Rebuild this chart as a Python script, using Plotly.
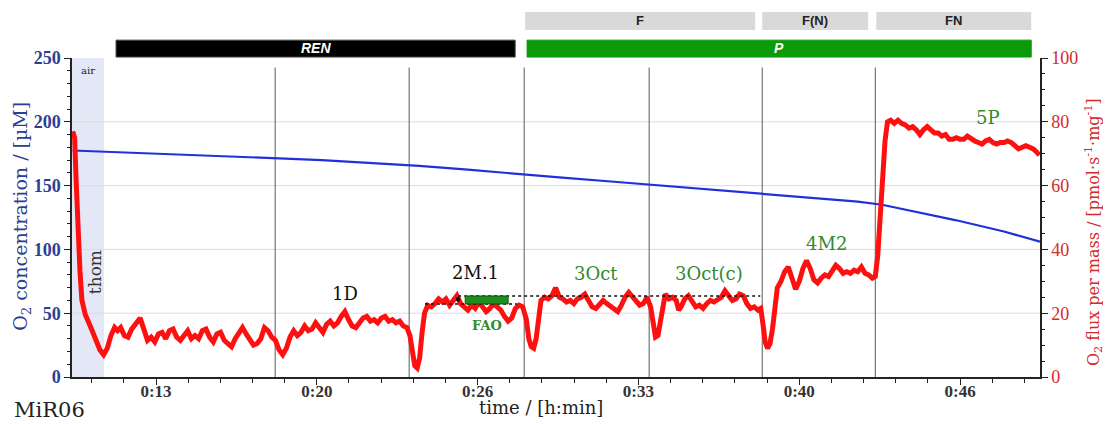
import plotly.graph_objects as go

# ---------------- data ----------------
# O2 concentration (left axis, µM)
o2_time = [9.78, 12, 14, 16, 18, 20, 22, 24, 26, 28, 30, 32, 34, 36, 38, 40, 42, 43, 44, 46, 48, 49.48]
o2_conc = [177.5, 176, 174.5, 173, 171.5, 170, 168, 165.5, 162.5, 159, 156, 153, 150, 147, 144, 141, 137.5, 135, 131, 123, 114, 106]

# O2 flux per mass (right axis)
flux_time = [
    9.78, 9.86, 9.92, 9.98, 10.08, 10.16, 10.3, 10.5, 10.7, 10.9, 11.05, 11.2, 11.35, 11.5, 11.62, 11.75,
    11.9, 12.05, 12.2, 12.4, 12.55, 12.7, 12.85, 13.0, 13.15, 13.3, 13.45, 13.6, 13.75, 13.9, 14.05, 14.2, 14.35,
    14.5, 14.65, 14.8, 14.95, 15.1, 15.25, 15.4, 15.55, 15.7, 15.85, 16.0, 16.15, 16.3, 16.45, 16.6, 16.75, 16.9,
    17.05, 17.2, 17.35, 17.5, 17.65, 17.8, 17.95, 18.1,
    18.25, 18.4, 18.55, 18.7, 18.85, 19.0, 19.15, 19.3, 19.45, 19.6, 19.75, 19.9, 20.05, 20.2, 20.35, 20.5, 20.65,
    20.8, 20.95, 21.1, 21.25, 21.4, 21.55, 21.7, 21.85, 22.0, 22.15, 22.3, 22.45, 22.6, 22.75, 22.9, 23.05, 23.2,
    23.35, 23.5,
    23.62, 23.72, 23.82, 23.92, 24.02, 24.12, 24.22, 24.35, 24.5, 24.65, 24.8, 24.95, 25.1, 25.25, 25.4, 25.55,
    25.7, 25.85, 26.0, 26.15, 26.3, 26.45, 26.6, 26.75, 26.9, 27.05, 27.2, 27.35, 27.5, 27.65, 27.8, 27.95, 28.1, 28.25,
    28.4, 28.5, 28.6, 28.7, 28.8, 28.9, 29.0, 29.15, 29.3, 29.45, 29.6, 29.75, 29.9, 30.05, 30.2, 30.35, 30.5,
    30.65, 30.8, 30.95, 31.1, 31.25, 31.4, 31.55, 31.7, 31.85, 32.0, 32.15, 32.3, 32.45, 32.6, 32.75, 32.9, 33.05,
    33.2, 33.35,
    33.5, 33.6, 33.7, 33.8, 33.9, 34.0, 34.1, 34.25, 34.4, 34.55, 34.65, 34.75, 34.9, 35.05, 35.2, 35.35, 35.5,
    35.65, 35.8, 35.95, 36.1, 36.25, 36.4, 36.55, 36.7, 36.85, 37.0, 37.15, 37.3, 37.45, 37.6, 37.75, 37.9, 38.02,
    38.12, 38.2, 38.3, 38.4, 38.5, 38.6, 38.7, 38.85, 39.0, 39.15, 39.3, 39.45, 39.6, 39.75, 39.9, 40.05, 40.2,
    40.35, 40.5, 40.65, 40.8, 40.95, 41.1, 41.25, 41.4, 41.55, 41.7, 41.85, 42.0, 42.15, 42.3, 42.45, 42.6, 42.72,
    42.82, 42.92, 43.02, 43.12, 43.22, 43.35, 43.5, 43.65, 43.8, 43.95, 44.1, 44.25, 44.4, 44.55, 44.7, 44.85,
    45.0, 45.15, 45.3, 45.45, 45.6, 45.75, 45.9, 46.05, 46.2, 46.35, 46.5, 46.65, 46.8, 46.95, 47.1, 47.25, 47.4,
    47.55, 47.7, 47.85, 48.0, 48.15, 48.3, 48.45, 48.6, 48.75, 48.9, 49.05, 49.2, 49.35, 49.45,
]
flux_value = [
    77, 75, 62, 48, 33, 24, 19.5, 16, 12, 8.5, 7, 9, 13, 15.5, 14.5, 15.5,
    13, 12.5, 15, 17, 18.5, 15, 11.5, 12.5, 11, 13.5, 14, 12, 14.5, 15, 12.5, 11.5, 13,
    14.5, 12, 13, 12, 14.5, 15, 12.5, 11, 13.5, 14, 11.5, 10.5, 9.5, 12, 14, 15.5, 13.5,
    11.5, 10, 10.5, 12, 15.5, 14.5, 12.5, 11.5,
    8.5, 7, 9, 12.5, 14.5, 13, 14, 16, 14.5, 15, 17, 15.5, 14, 16.5, 17.5, 16, 17,
    19, 20.5, 18, 16, 15.5, 17, 18.5, 19, 17.5, 18, 17, 18.5, 19, 17.5, 18, 17, 17.5,
    16, 15.5,
    13, 7, 3.5, 2.8, 6, 14, 20, 22.5, 22, 23, 24.5, 23.5, 24.5, 22.5, 24, 25.5,
    23, 22, 21, 22.5, 21.5, 23.5, 22, 20.5, 21.5, 23, 22, 21, 19, 17.5, 18.5, 21.5, 22.5, 22,
    18, 12, 9.5, 9, 12, 19, 24, 25, 24.5, 25.5, 28, 25, 24.5, 23.5, 24, 23, 24.5,
    25, 26, 24, 22, 21.5, 23, 24, 23, 22, 21, 20.5, 22.5, 25, 26.5, 25, 23.5, 22.5,
    23, 25,
    22, 16, 12.5, 13, 18, 23, 26, 24.5, 25, 24, 21, 22, 24.5, 25.5, 23.5, 22, 22.5,
    21.5, 23, 24, 23.5, 24.5, 25, 27, 25.5, 24, 24.5, 26, 25.5, 23, 21.5, 22, 21, 21.5,
    16, 11, 9, 10.5, 15, 23, 28, 30, 33, 34.5, 31, 27.5, 30, 34, 36.5, 34, 30.5,
    29.5, 31, 32, 31.5, 33, 35, 34, 32.5, 33, 32.5, 33.5, 33, 34.5, 32.5, 32, 31, 31.5,
    38, 50, 63, 74, 80, 80.5, 79.5, 80.5, 79.5, 79, 78, 78.5, 77.5, 76, 77.5, 78.5,
    77.5, 76.5, 76.5, 75.5, 76, 74.5, 74.5, 75, 74.5, 74.5, 75.5, 74.5, 74, 73.5, 73, 74, 74.5,
    73.5, 73, 73.5, 73.5, 74, 73.5, 72.5, 71.5, 72, 72.5, 72, 71.5, 70.5, 69.5,
]

# x-axis ticks
tick_times = [13.2, 19.8, 26.4, 33.0, 39.6, 46.2]
tick_labels = ["0:13", "0:20", "0:26", "0:33", "0:40", "0:46"]

# event marks (titration times)
event_times = [18.09, 23.59, 28.31, 33.44, 38.08, 42.72]
event_labels = ["1D", "2M.1", "3Oct", "3Oct(c)", "4M2", "5P"]
event_label_t = [20.96, 26.3, 31.26, 35.9, 40.71, 47.35]
event_label_y = [26.3, 32.9, 32.6, 32.6, 42, 81.2]
event_label_col = ["#111111", "#111111", "#2e8b2e", "#2e8b2e", "#2e8b2e", "#2e8b2e"]

# protocol bars
coupling_names = ["REN", "P"]
coupling_start = [11.56, 28.43]
coupling_end = [27.94, 49.12]
coupling_colors = ["#000000", "#0a9a0a"]

pathway_names = ["F", "F(N)", "FN"]
pathway_start = [28.35, 38.08, 42.76]
pathway_end = [37.79, 42.43, 49.12]

air_start, air_end = 9.752, 11.07

# FAO marker
fao_low, fao_high = 22.9, 25.4
fao_low_t = [24.24, 28.02]
fao_high_t = [25.6, 38.0]
fao_box_t = [25.89, 27.65]

grid_levels = [50, 100, 150, 200]

BLUE_TXT = "#2b3f94"
RED_TXT = "#d42a2a"
SERIF = "DejaVu Serif"
SERIF2 = "Liberation Serif"

fig = go.Figure()
fig.add_trace(go.Scatter(x=o2_time, y=o2_conc, mode="lines", yaxis="y",
                         line=dict(color="#2230dc", width=2.2), showlegend=False))
fig.add_trace(go.Scatter(x=flux_time, y=flux_value, mode="lines", yaxis="y2",
                         line=dict(color="#ff1010", width=5), showlegend=False))

shapes = []
shapes.append(dict(type="rect", xref="x", yref="paper", x0=air_start, x1=air_end, y0=0, y1=1.0,
                   fillcolor="#e3e7f6", line=dict(width=0), layer="below"))
for g in grid_levels:
    shapes.append(dict(type="line", xref="paper", yref="y", x0=0, x1=1, y0=g, y1=g,
                       line=dict(color="#dcdcdc", width=1), layer="below"))
for t in event_times:
    shapes.append(dict(type="line", xref="x", yref="paper", x0=t, x1=t, y0=0, y1=0.97,
                       line=dict(color="#5a5a5a", width=1), layer="below"))
for s, e, c in zip(coupling_start, coupling_end, coupling_colors):
    shapes.append(dict(type="rect", xref="x", yref="paper", x0=s, x1=e, y0=1.003, y1=1.056,
                       fillcolor=c, line=dict(color="#444444" if c == "#000000" else c, width=1)))
for s, e in zip(pathway_start, pathway_end):
    shapes.append(dict(type="rect", xref="x", yref="paper", x0=s, x1=e, y0=1.088, y1=1.144,
                       fillcolor="#d9d9d9", line=dict(width=0)))
shapes.append(dict(type="line", xref="x", yref="y2", x0=fao_low_t[0], x1=fao_low_t[1], y0=fao_low, y1=fao_low,
                   line=dict(color="#111111", width=1.5, dash="dot")))
shapes.append(dict(type="line", xref="x", yref="y2", x0=fao_high_t[0], x1=fao_high_t[1], y0=fao_high, y1=fao_high,
                   line=dict(color="#111111", width=1.5, dash="dot")))
shapes.append(dict(type="rect", xref="x", yref="y2", x0=fao_box_t[0], x1=fao_box_t[1], y0=fao_low, y1=fao_high,
                   fillcolor="#1c8f1c", line=dict(color="#0e5a0e", width=1)))

ann = []


def label(**kw):
    kw.setdefault("showarrow", False)
    kw.setdefault("xanchor", "center")
    kw.setdefault("yanchor", "middle")
    ann.append(kw)


for s, e, n in zip(coupling_start, coupling_end, coupling_names):
    label(x=(s + e) / 2, y=1.03, xref="x", yref="paper", text="<b><i>%s</i></b>" % n,
          font=dict(family="Liberation Sans", size=14, color="white"))
for s, e, n in zip(pathway_start, pathway_end, pathway_names):
    label(x=(s + e) / 2, y=1.117, xref="x", yref="paper", text="<b>%s</b>" % n,
          font=dict(family="Liberation Sans", size=13, color="#222222"))
for t, y, n, c in zip(event_label_t, event_label_y, event_labels, event_label_col):
    label(x=t, y=y, xref="x", yref="y2", text=n, font=dict(family=SERIF, size=18, color=c))
label(x=26.79, y=16, xref="x", yref="y2", text="<b>FAO</b>",
      font=dict(family=SERIF, size=13, color="#2e8b2e"))
ann.append(dict(x=fao_high_t[0], y=fao_high, ax=fao_high_t[0], ay=fao_low, xref="x", yref="y2",
                axref="x", ayref="y2", text="", showarrow=True, arrowhead=2, arrowside="end+start",
                arrowsize=0.8, arrowwidth=1.2, arrowcolor="#111111"))
label(x=10.7, y=32.9, xref="x", yref="y2", text="thom", textangle=-90,
      font=dict(family=SERIF, size=17, color="#333333"))
label(x=0.0165, y=0.962, xref="paper", yref="paper", text="air",
      font=dict(family=SERIF, size=10, color="#222222"))
label(x=0.485, y=-0.097, xref="paper", yref="paper", text="time / [h:min]",
      font=dict(family=SERIF, size=18, color="#222222"))
label(x=-0.023, y=-0.105, xref="paper", yref="paper", text="MiR06",
      font=dict(family=SERIF, size=21, color="#222222"))
label(x=-0.0517, y=0.505, xref="paper", yref="paper", text="O<sub>2</sub> concentration / [µM]",
      textangle=-90, font=dict(family=SERIF, size=19, color=BLUE_TXT))
label(x=1.056, y=0.455, xref="paper", yref="paper",
      text="O<sub>2</sub> flux per mass / [pmol·s<sup>-1</sup>·mg<sup>-1</sup>]",
      textangle=-90, font=dict(family=SERIF, size=16, color=RED_TXT))

# page body has an 8px default margin: the figure is sized so that the plot area
# lands where it is in the reference (left 72, right 1040, top 58, bottom 377)
fig.update_layout(
    width=1103, height=416,
    margin=dict(l=64, r=71, t=50, b=47),
    paper_bgcolor="white", plot_bgcolor="white",
    showlegend=False,
    shapes=shapes, annotations=ann,
    xaxis=dict(range=[9.752, 49.48], showgrid=False, zeroline=False, showline=True, linecolor="#222222",
               linewidth=1.5, ticks="outside", ticklen=6, tickcolor="#222222",
               tickmode="array", tickvals=tick_times, ticktext=tick_labels, ticklabelstandoff=-8,
               tickfont=dict(family=SERIF2, size=17, color="#333333", weight="bold"),
               minor=dict(tick0=13.2, dtick=1.32, ticks="outside", ticklen=4, tickcolor="#222222")),
    yaxis=dict(range=[0, 250], dtick=50, showgrid=False, zeroline=False, showline=True, linecolor="#222222",
               linewidth=1.5, ticks="outside", ticklen=6, tickcolor="#222222",
               tickfont=dict(family=SERIF2, size=18, color=BLUE_TXT, weight="bold"),
               minor=dict(dtick=10, ticks="outside", ticklen=3, tickcolor="#222222")),
    yaxis2=dict(range=[0, 100], dtick=20, overlaying="y", side="right", showgrid=False, zeroline=False,
                showline=True, linecolor="#222222", linewidth=1.5, ticks="outside", ticklen=6,
                tickcolor="#222222", tickfont=dict(family=SERIF2, size=18, color=RED_TXT),
                minor=dict(dtick=5, ticks="outside", ticklen=3, tickcolor="#222222")),
)

fig.write_html("out.html")
